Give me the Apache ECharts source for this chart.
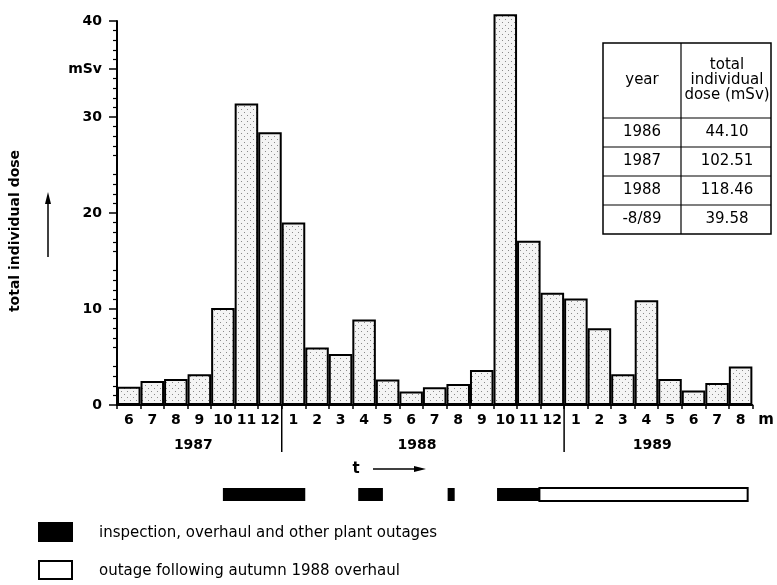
<!DOCTYPE html>
<html><head><meta charset="utf-8">
<script src="https://cdn.jsdelivr.net/npm/echarts@6/dist/echarts.min.js"></script>
<style>html,body{margin:0;padding:0;background:#fff}#c{width:777px;height:585px}</style>
</head><body><div id="c"></div>
<script>
// ---- data ----
const months = ['6','7','8','9','10','11','12','1','2','3','4','5','6','7','8','9','10','11','12','1','2','3','4','5','6','7','8'];
const doses = [1.9,2.5,2.7,3.2,10.1,31.4,28.4, 19.0,6.0,5.3,8.9,2.65,1.4,1.85,2.2,3.65,40.7,17.1,11.7, 11.1,8.0,3.2,10.9,2.7,1.5,2.3,4.0];
const years = ['1987','1988','1989'];
const yearStart = [0,7,19];
const yearEnd = [7,19,27];
const yTickValues = [0,10,20,30,35,40];
const outageStart = [4.5,10.25,14.05,16.15,17.95];
const outageEnd = [8.0,11.3,14.35,17.95,26.8];
const outageKind = [0,0,0,0,1];
const tableYears = ['1986','1987','1988','-8/89'];
const tableDoses = ['44.10','102.51','118.46','39.58'];
const tableHeader = ['year','total','individual','dose (mSv)'];
const legendLabels = ['inspection, overhaul and other plant outages','outage following autumn 1988 overhaul'];

const FONT = '"DejaVu Sans", "Liberation Sans", Arial, sans-serif';

// stipple pattern fill
const pc = document.createElement('canvas'); pc.width = 6; pc.height = 6;
const g = pc.getContext('2d');
g.fillStyle = '#f4f4f4'; g.fillRect(0,0,6,6);
g.fillStyle = '#8a8a8a'; g.fillRect(1,1,1,1); g.fillRect(4,4,1,1);
const pattern = {image: pc, repeat: 'repeat'};

const chart = echarts.init(document.getElementById('c'), null, {renderer:'canvas'});

// table graphic
const tL = 603, tR = 771, tT = 43, tH = 118, rowH = 29, tC = 681;
const tB = tH + rowH * tableYears.length;
const TF = '15px ' + FONT;
const tableEls = [
  {type:'rect', shape:{x:tL,y:tT,width:tR-tL,height:tB-tT}, style:{fill:'#fff',stroke:'#000',lineWidth:1.5}},
  {type:'line', shape:{x1:tC,y1:tT,x2:tC,y2:tB}, style:{stroke:'#000',lineWidth:1.2}},
  {type:'text', x:(tL+tC)/2, y:(tT+tH)/2, style:{text:tableHeader[0], font:TF, fill:'#000', align:'center', verticalAlign:'middle'}},
  {type:'text', x:(tC+tR)/2+1, y:(tT+tH)/2-15, style:{text:tableHeader[1], font:TF, fill:'#000', align:'center', verticalAlign:'middle'}},
  {type:'text', x:(tC+tR)/2+1, y:(tT+tH)/2, style:{text:tableHeader[2], font:TF, fill:'#000', align:'center', verticalAlign:'middle'}},
  {type:'text', x:(tC+tR)/2+1, y:(tT+tH)/2+15, style:{text:tableHeader[3], font:TF, fill:'#000', align:'center', verticalAlign:'middle'}}
];
tableYears.forEach((yr,i)=>{
  const y0 = tH + i*rowH;
  tableEls.push({type:'line', shape:{x1:tL,y1:y0,x2:tR,y2:y0}, style:{stroke:'#000',lineWidth:1.2}});
  tableEls.push({type:'text', x:(tL+tC)/2, y:y0+rowH/2, style:{text:yr, font:TF, fill:'#000', align:'center', verticalAlign:'middle'}});
  tableEls.push({type:'text', x:(tC+tR)/2+1, y:y0+rowH/2, style:{text:tableDoses[i], font:TF, fill:'#000', align:'center', verticalAlign:'middle'}});
});

const option = {
  animation:false,
  backgroundColor:'#fff',
  grid:{left:117, right:22, top:21, bottom:180},
  xAxis:[{
    type:'category', data:months, boundaryGap:true,
    axisLine:{lineStyle:{color:'#000',width:2}},
    axisTick:{show:true,length:4,interval:0,lineStyle:{color:'#000',width:1.5}},
    axisLabel:{interval:0,hideOverlap:false,color:'#000',fontSize:14,fontWeight:'bold',fontFamily:FONT,margin:8},
    name:'m', nameLocation:'end', nameGap:6,
    nameTextStyle:{color:'#000',fontSize:15,fontWeight:'bold',fontFamily:FONT,verticalAlign:'top',padding:[8,0,0,0]},
    splitLine:{show:false}
  },{
    type:'value', min:0, max:months.length, show:false
  }],
  yAxis:[{
    type:'value', min:0, max:40, interval:5,
    axisLine:{show:true,lineStyle:{color:'#000',width:2}},
    axisTick:{show:true,length:8,customValues:yTickValues,lineStyle:{color:'#000',width:1.5}},
    minorTick:{show:true,splitNumber:5,length:4,lineStyle:{color:'#000',width:1.2}},
    axisLabel:{customValues:yTickValues,color:'#000',fontSize:14,fontWeight:'bold',fontFamily:FONT,margin:15,
      formatter:v=> v===35 ? 'mSv' : String(v)},
    splitLine:{show:false}
  }],
  series:[{
    type:'bar', data:doses, barCategoryGap:'0%', clip:false, silent:true,
    itemStyle:{color:pattern,borderColor:'#000',borderWidth:2}
  },{
    type:'custom', xAxisIndex:1, yAxisIndex:0, silent:true, clip:false,
    data: outageStart.map((s,i)=>[s, outageEnd[i], outageKind[i]]),
    renderItem:(params, api)=>{
      const x0 = api.coord([api.value(0),0])[0];
      const x1 = api.coord([api.value(1),0])[0];
      const k = api.value(2);
      return {type:'rect', shape:{x:x0,y:488,width:x1-x0,height:13},
        style: k===0 ? {fill:'#000'} : {fill:'#fff',stroke:'#000',lineWidth:2}};
    }
  },{
    type:'custom', xAxisIndex:1, yAxisIndex:0, silent:true, clip:false,
    data: years.map((y,i)=>[yearStart[i], yearEnd[i], i]),
    renderItem:(params, api)=>{
      const s = api.value(0), e = api.value(1), i = api.value(2);
      const xs = api.coord([s,0])[0], xm = api.coord([(s+e)/2,0])[0] - 6;
      const base = api.coord([s,0])[1];
      const children = [{type:'text', x:xm, y:445, style:{text:years[i], font:'bold 14px '+FONT, fill:'#000', align:'center', verticalAlign:'middle'}}];
      if (s > 0) children.push({type:'line', shape:{x1:xs,y1:base,x2:xs,y2:452}, style:{stroke:'#000',lineWidth:1.5}});
      return {type:'group', children};
    }
  }],
  graphic:[
    {type:'text', x:15, y:231, rotation:Math.PI/2, style:{text:'total individual dose', font:'bold 14px '+FONT, fill:'#000', align:'center', verticalAlign:'middle'}},
    {type:'line', shape:{x1:48,y1:257,x2:48,y2:202}, style:{stroke:'#000',lineWidth:1.5}},
    {type:'polygon', shape:{points:[[48,192],[45,204],[51,204]]}, style:{fill:'#000'}},
    {type:'text', x:356, y:469, style:{text:'t', font:'bold 15px '+FONT, fill:'#000', align:'center', verticalAlign:'middle'}},
    {type:'line', shape:{x1:373,y1:469,x2:416,y2:469}, style:{stroke:'#000',lineWidth:1.5}},
    {type:'polygon', shape:{points:[[426,469],[414,466],[414,472]]}, style:{fill:'#000'}},
    {type:'rect', shape:{x:38,y:522,width:35,height:20}, style:{fill:'#000'}},
    {type:'text', x:99, y:533, style:{text:legendLabels[0], font:'15px '+FONT, fill:'#000', align:'left', verticalAlign:'middle'}},
    {type:'rect', shape:{x:39,y:561,width:33,height:18}, style:{fill:'#fff',stroke:'#000',lineWidth:2}},
    {type:'text', x:99, y:571, style:{text:legendLabels[1], font:'15px '+FONT, fill:'#000', align:'left', verticalAlign:'middle'}},
    {type:'group', children:tableEls}
  ]
};
chart.setOption(option);
</script></body></html>
